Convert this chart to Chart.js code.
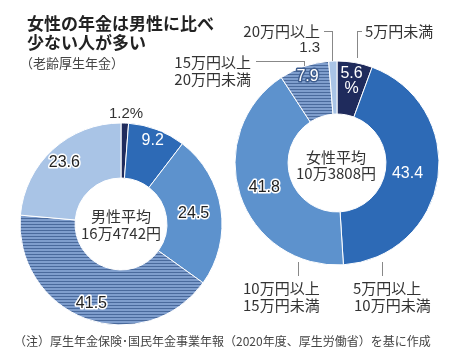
<!DOCTYPE html>
<html><head><meta charset="utf-8">
<script src="https://cdn.jsdelivr.net/npm/chart.js@4"></script>
<style>
html,body{margin:0;padding:0;background:#fff;}
#wrap{position:relative;width:460px;height:357px;overflow:hidden;font-family:"Noto Sans CJK JP","Noto Sans",sans-serif;color:#333;}
canvas{position:absolute;left:0;top:0;}
.t{position:absolute;white-space:nowrap;line-height:1;}
.ln{position:absolute;background:#888;}
</style></head>
<body><div id="wrap">
<canvas id="cm" width="460" height="357"></canvas>
<canvas id="cf" width="460" height="357"></canvas>
<div id="txt"></div>
</div>
<script>
// ---- data ----
const categories = ['5万円未満','5万円以上10万円未満','10万円以上15万円未満','15万円以上20万円未満','20万円以上'];
const menValues = [1.2, 9.2, 24.5, 41.5, 23.6];
const womenValues = [5.6, 43.4, 41.8, 7.9, 1.3];
const menAverage = '16万4742円';
const womenAverage = '10万3808円';
const title1 = '女性の年金は男性に比べ';
const title2 = '少ない人が多い';
const subtitle = '（老齢厚生年金）';
const note = '（注）厚生年金保険･国民年金事業年報（2020年度、厚生労働省）を基に作成';

// ---- styles ----
function hatch(){
  const c=document.createElement('canvas'); c.width=4; c.height=3;
  const g=c.getContext('2d'); g.fillStyle='#7f9ecd'; g.fillRect(0,0,4,3);
  g.fillStyle='#4a6a9c'; g.fillRect(0,2,4,1);
  return g.createPattern(c,'repeat');
}
const colors = ['#1f2b5c','#2d6ab6','#5d92cd', hatch(), '#a9c4e6'];
const textStyle = {
  men:   {fill:['#222','#fff','#222','#222','#222'], stroke:['#fff','#2d6ab6','#fff','#fff','#fff'], r:[0,0.78,0.5,0.71,0.69], skip:[0]},
  women: {fill:['#fff','#fff','#222','#fff','#222'], stroke:['#1f2b5c','#2d6ab6','#fff','#3e5d8f','#fff'], r:[0.64,0.42,0.52,0.79,0], skip:[4]}
};

const sliceLabels = {
  id:'sliceLabels',
  afterDatasetsDraw(chart){
    const st = chart.options.plugins.sliceLabels.style;
    const ctx = chart.ctx;
    const meta = chart.getDatasetMeta(0);
    const vals = chart.data.datasets[0].data;
    ctx.save();
    ctx.font = '16px "Liberation Sans", Arial, sans-serif';
    ctx.textAlign='center'; ctx.textBaseline='middle';
    ctx.lineJoin='round';
    meta.data.forEach((arc,i)=>{
      if(st.skip.includes(i)) return;
      const p = arc.getProps(['x','y','startAngle','endAngle','innerRadius','outerRadius'],true);
      const a = (p.startAngle+p.endAngle)/2;
      const r = p.innerRadius + st.r[i]*(p.outerRadius-p.innerRadius);
      const x = p.x + Math.cos(a)*r, y = p.y + Math.sin(a)*r;
      const lines = (chart.canvas.id==='cf' && i===0) ? [vals[i].toFixed(1),'%'] : [vals[i].toFixed(1)];
      lines.forEach((s,k)=>{
        const yy = y + (k - (lines.length-1)/2)*15;
        ctx.lineWidth=3; ctx.strokeStyle=st.stroke[i]; ctx.strokeText(s,x,yy);
        ctx.fillStyle=st.fill[i]; ctx.fillText(s,x,yy);
      });
    });
    ctx.restore();
  }
};

function donut(id, values, cutout, pad, style){
  return new Chart(document.getElementById(id),{
    type:'doughnut',
    data:{labels:categories, datasets:[{data:values, backgroundColor:colors, borderColor:'#fff', borderWidth:1}]},
    options:{
      responsive:false, animation:false, cutout:cutout,
      layout:{padding:pad},
      plugins:{legend:{display:false}, tooltip:{enabled:false}, sliceLabels:{style:style}}
    },
    plugins:[sliceLabels]
  });
}
donut('cm', menValues, '45.5%', {left:19.5, top:122.5, right:237.5, bottom:31.5}, textStyle.men);
donut('cf', womenValues, '48%', {left:234.5, top:60.5, right:20.5, bottom:91.5}, textStyle.women);

// ---- text overlay ----
const T = document.getElementById('txt');
function txt(s, x, y, size, opts={}){
  const d=document.createElement('div'); d.className='t'; d.textContent=s;
  d.style.fontSize=size+'px'; d.style.top=(y-size/2)+'px';
  if(opts.align==='right'){ d.style.right=(460-x)+'px'; }
  else if(opts.align==='center'){ d.style.left=x+'px'; d.style.transform='translateX(-50%)'; }
  else d.style.left=x+'px';
  if(opts.bold) d.style.fontWeight='bold';
  if(opts.color) d.style.color=opts.color;
  if(opts.font) d.style.fontFamily=opts.font;
  T.appendChild(d);
}
function line(x1,y1,x2,y2){
  const d=document.createElement('div'); d.className='ln';
  d.style.left=Math.min(x1,x2)+'px'; d.style.top=Math.min(y1,y2)+'px';
  d.style.width=Math.max(1,Math.abs(x2-x1))+'px'; d.style.height=Math.max(1,Math.abs(y2-y1))+'px';
  T.appendChild(d);
}
txt(title1, 27, 22, 17, {bold:true, color:'#222'});
txt(title2, 27, 41, 17, {bold:true, color:'#222'});
txt(subtitle, 20, 62, 13, {color:'#444'});

txt('男性平均', 121, 215, 15, {align:'center'});
txt(menAverage, 121, 232, 15, {align:'center'});
txt('女性平均', 336, 156, 15, {align:'center'});
txt(womenAverage, 336, 172, 15, {align:'center'});

txt(menValues[0].toFixed(1)+'%', 126, 112, 15, {align:'center', font:'"Liberation Sans", Arial, sans-serif'});

txt('20万円以上', 320, 30, 15, {align:'right', color:'#333'});
txt(womenValues[4].toFixed(1), 320, 46, 15, {align:'right', font:'"Liberation Sans", Arial, sans-serif'});
line(324,31,333,31); line(332,31,332,61);

txt('5万円未満', 365, 30, 15);
line(357,31,362,31); line(357,31,357,58);

txt('15万円以上', 251, 61, 15, {align:'right'});
txt('20万円未満', 251, 78, 15, {align:'right'});
line(256,61,305,61); line(304,61,304,66);

txt('10万円以上', 243, 287, 15);
txt('15万円未満', 243, 304, 15);
line(298,262,298,276);
txt('5万円以上', 353, 287, 15);
txt('10万円未満', 354, 304, 15);
line(382,262,382,276);

txt(note, 14, 341, 12, {color:'#444'});
</script>
</body></html>
